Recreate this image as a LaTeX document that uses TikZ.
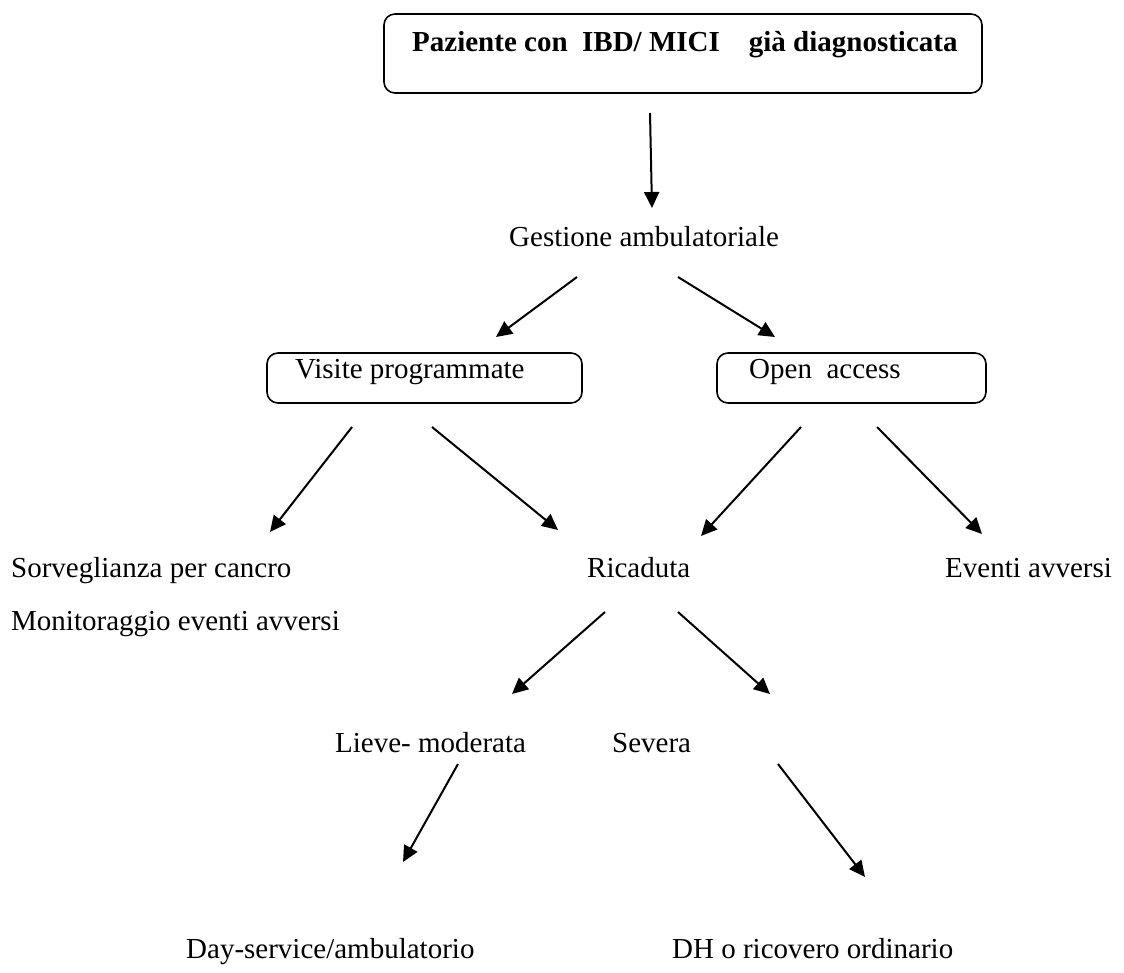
\documentclass[tikz,border=0pt]{standalone}
\usepackage{fontspec}
\setmainfont{Liberation Serif}
\usetikzlibrary{arrows.meta}
\begin{document}
\begin{tikzpicture}[x=1pt,y=-1pt,
  lbl/.style={anchor=base west,inner sep=0pt,font=\fontsize{29}{34}\selectfont},
  boxline/.style={draw=black,line width=1.6pt,rounded corners=11pt},
  arr/.style={line width=2pt,-{Triangle[length=16pt,width=15pt]}}]
\useasboundingbox (0,0) rectangle (1124,973);
% boxes
\draw[boxline] (384,14) rectangle (982,93);
\draw[boxline] (267,353) rectangle (582,403);
\draw[boxline] (717,353) rectangle (986,403);
% texts
\node[lbl,font=\fontsize{29}{34}\selectfont\bfseries] (title) at (412,52) {Paziente con\ \ IBD/ MICI\ \ \ \ già diagnosticata};
\node[lbl] (gest) at (509,247) {Gestione ambulatoriale};
\node[lbl] (vis) at (295,378) {Visite programmate};
\node[lbl] (open) at (749,378) {Open\ \ access};
\node[lbl] (sorv) at (11,577) {Sorveglianza per cancro};
\node[lbl] (mon) at (11,630) {Monitoraggio eventi avversi};
\node[lbl] (ric) at (587,577) {Ricaduta};
\node[lbl] (ev) at (945,577) {Eventi avversi};
\node[lbl] (lieve) at (335,752) {Lieve- moderata};
\node[lbl] (sev) at (612,752) {Severa};
\node[lbl] (day) at (186,958) {Day-service/ambulatorio};
\node[lbl] (dh) at (672,958) {DH o ricovero ordinario};
% arrow end points
\coordinate (t1) at (650,113); \coordinate (t2) at (652,208);
\coordinate (g1) at (577,277); \coordinate (g2) at (496,337);
\coordinate (g3) at (678,277); \coordinate (g4) at (775,337);
\coordinate (a1) at (352,427); \coordinate (a2) at (270,532);
\coordinate (b1) at (432,427); \coordinate (b2) at (558,530);
\coordinate (c1) at (801,427); \coordinate (c2) at (701,536);
\coordinate (d1) at (877,427); \coordinate (d2) at (982,534);
\coordinate (e1) at (605,612); \coordinate (e2) at (512,694);
\coordinate (f1) at (678,612); \coordinate (f2) at (770,694);
\coordinate (h1) at (458,764); \coordinate (h2) at (403,862);
\coordinate (k1) at (778,764); \coordinate (k2) at (865,877);
\draw[arr] (t1) -- (t2);
\draw[arr] (g1) -- (g2);
\draw[arr] (g3) -- (g4);
\draw[arr] (a1) -- (a2);
\draw[arr] (b1) -- (b2);
\draw[arr] (c1) -- (c2);
\draw[arr] (d1) -- (d2);
\draw[arr] (e1) -- (e2);
\draw[arr] (f1) -- (f2);
\draw[arr] (h1) -- (h2);
\draw[arr] (k1) -- (k2);
\end{tikzpicture}
\end{document}
